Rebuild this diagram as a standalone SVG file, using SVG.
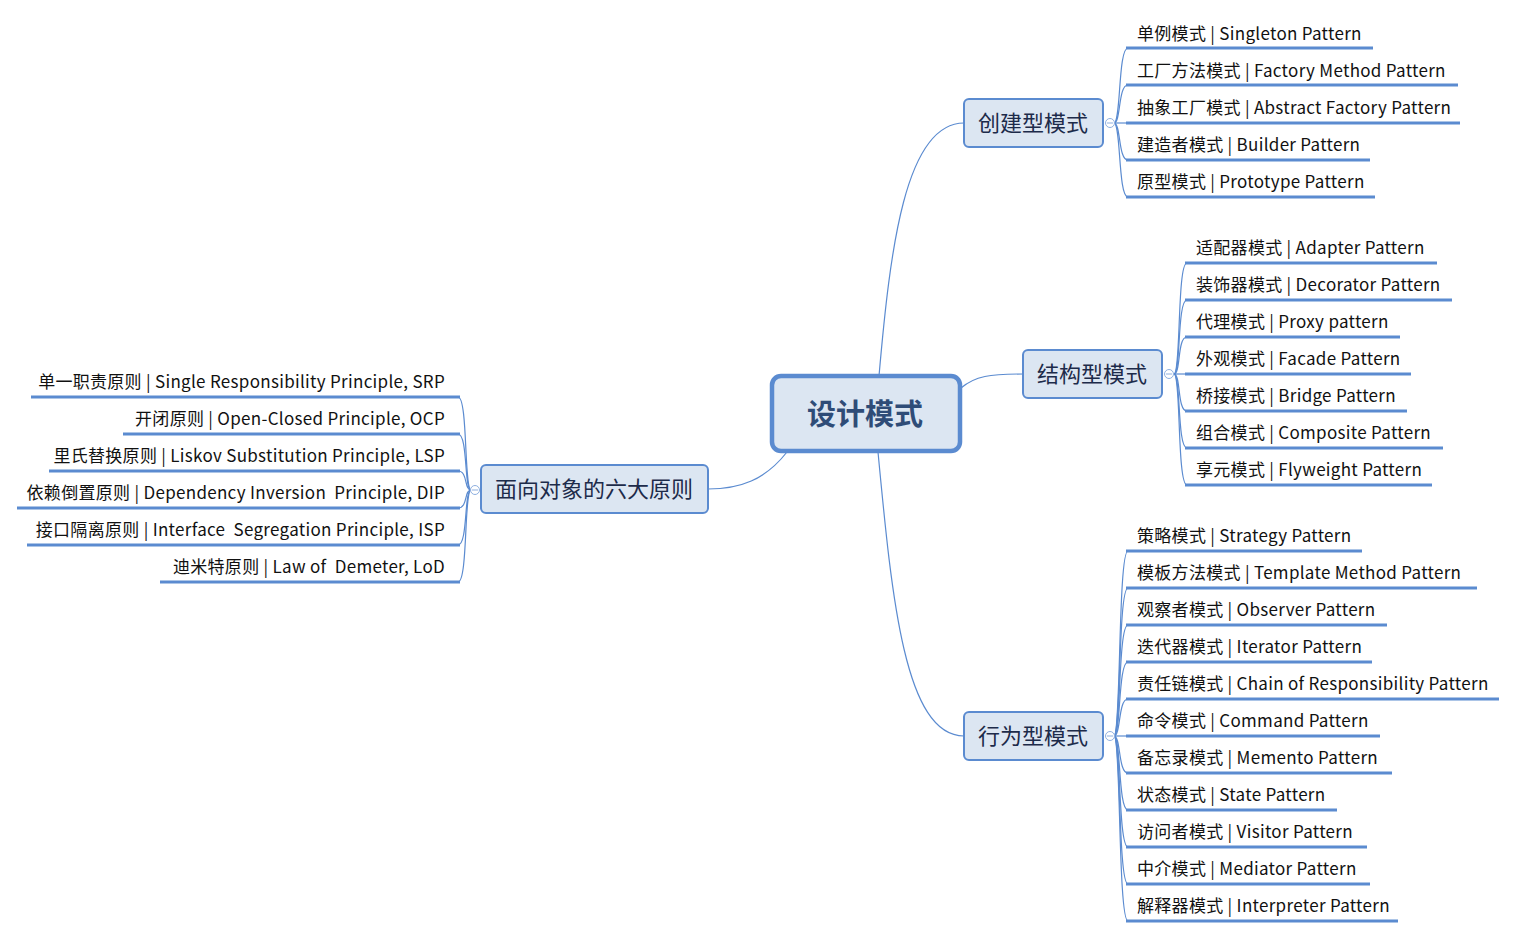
<svg xmlns="http://www.w3.org/2000/svg" width="1517" height="938" viewBox="0 0 1517 938">
<style>
.bg{fill:#ffffff}
.conn{fill:none;stroke:#5b8bd0;stroke-width:1.2}
.ul{stroke:#5b8bd0;stroke-width:3;stroke-linecap:butt}
.leaf{font-family:"Noto Sans CJK SC","Open Sans",sans-serif;font-size:17px;fill:#111111;letter-spacing:0.3px}
.br rect{fill:#dce6f2;stroke:#5b8bd0;stroke-width:2}
.brt{font-family:"Noto Sans CJK SC",sans-serif;font-size:22px;fill:#1d2b4a;text-anchor:middle}
.ctr rect{fill:#dce6f2;stroke:#5b8bd0;stroke-width:4.5}
.ctrt{font-family:"Noto Sans CJK SC",sans-serif;font-size:29px;font-weight:bold;fill:#2f4c77;text-anchor:middle}
.tog circle{fill:#ffffff;stroke:#8fb0e0;stroke-width:1}
.tog line{stroke:#8fb0e0;stroke-width:1}
</style>
<rect class="bg" x="0" y="0" width="1517" height="938"/>

<g id="connectors">
  <path class="conn" d="M879,376 C890,250 905,123 964,123"/>
  <path class="conn" d="M961,388 C975,376 990,374 1023,374"/>
  <path class="conn" d="M878,452 C892,600 905,736 964,736"/>
  <path class="conn" d="M787,452 C765,480 740,489 708,489"/>
  <path class="conn" d="M1114,123 C1121,123 1118,48 1128,48"/>
  <path class="conn" d="M1114,123 C1121,123 1118,85 1128,85"/>
  <path class="conn" d="M1114,123 L1128,123"/>
  <path class="conn" d="M1114,123 C1121,123 1118,160 1128,160"/>
  <path class="conn" d="M1114,123 C1121,123 1118,197 1128,197"/>
  <path class="conn" d="M1174,374 C1181,374 1177,263 1187,263"/>
  <path class="conn" d="M1174,374 C1181,374 1177,300 1187,300"/>
  <path class="conn" d="M1174,374 C1181,374 1177,337 1187,337"/>
  <path class="conn" d="M1174,374 L1187,374"/>
  <path class="conn" d="M1174,374 C1181,374 1177,411 1187,411"/>
  <path class="conn" d="M1174,374 C1181,374 1177,448 1187,448"/>
  <path class="conn" d="M1174,374 C1181,374 1177,485 1187,485"/>
  <path class="conn" d="M1114,736 C1121,736 1118,551 1128,551"/>
  <path class="conn" d="M1114,736 C1121,736 1118,588 1128,588"/>
  <path class="conn" d="M1114,736 C1121,736 1118,625 1128,625"/>
  <path class="conn" d="M1114,736 C1121,736 1118,662 1128,662"/>
  <path class="conn" d="M1114,736 C1121,736 1118,699 1128,699"/>
  <path class="conn" d="M1114,736 L1128,736"/>
  <path class="conn" d="M1114,736 C1121,736 1118,773 1128,773"/>
  <path class="conn" d="M1114,736 C1121,736 1118,810 1128,810"/>
  <path class="conn" d="M1114,736 C1121,736 1118,847 1128,847"/>
  <path class="conn" d="M1114,736 C1121,736 1118,884 1128,884"/>
  <path class="conn" d="M1114,736 C1121,736 1118,921 1128,921"/>
  <path class="conn" d="M471,490 C464,490 468,397 458,397"/>
  <path class="conn" d="M471,490 C464,490 468,434 458,434"/>
  <path class="conn" d="M471,490 C464,490 468,471 458,471"/>
  <path class="conn" d="M471,490 C464,490 468,508 458,508"/>
  <path class="conn" d="M471,490 C464,490 468,545 458,545"/>
  <path class="conn" d="M471,490 C464,490 468,582 458,582"/>
</g>

<g id="center" class="ctr">
  <rect x="772" y="376" width="188" height="75" rx="9"/>
  <text class="ctrt" x="865" y="425">设计模式</text>
</g>

<g id="creational" class="br">
  <rect x="964" y="99" width="139" height="48" rx="5"/>
  <text class="brt" x="1033" y="131">创建型模式</text>
</g>
<g id="creational-toggle" class="tog"><circle cx="1110" cy="123" r="4.5"/><line x1="1107" y1="123" x2="1113" y2="123"/></g>

<g id="structural" class="br">
  <rect x="1023" y="350" width="139" height="48" rx="5"/>
  <text class="brt" x="1092" y="382">结构型模式</text>
</g>
<g id="structural-toggle" class="tog"><circle cx="1169" cy="374" r="4.5"/><line x1="1166" y1="374" x2="1172" y2="374"/></g>

<g id="behavioral" class="br">
  <rect x="964" y="712" width="139" height="48" rx="5"/>
  <text class="brt" x="1033" y="744">行为型模式</text>
</g>
<g id="behavioral-toggle" class="tog"><circle cx="1110" cy="736" r="4.5"/><line x1="1107" y1="736" x2="1113" y2="736"/></g>

<g id="principles" class="br">
  <rect x="481" y="465" width="227" height="48" rx="5"/>
  <text class="brt" x="594" y="497">面向对象的六大原则</text>
</g>
<g id="principles-toggle" class="tog"><circle cx="475" cy="490" r="4.5"/><line x1="472" y1="490" x2="478" y2="490"/></g>

<g id="c1"><line class="ul" x1="1126" y1="48" x2="1373" y2="48"/><text class="leaf" x="1137" y="40">单例模式 | Singleton Pattern</text></g>
<g id="c2"><line class="ul" x1="1126" y1="85" x2="1458" y2="85"/><text class="leaf" x="1137" y="77">工厂方法模式 | Factory Method Pattern</text></g>
<g id="c3"><line class="ul" x1="1126" y1="123" x2="1460" y2="123"/><text class="leaf" x="1137" y="114">抽象工厂模式 | Abstract Factory Pattern</text></g>
<g id="c4"><line class="ul" x1="1126" y1="160" x2="1370" y2="160"/><text class="leaf" x="1137" y="151">建造者模式 | Builder Pattern</text></g>
<g id="c5"><line class="ul" x1="1126" y1="197" x2="1375" y2="197"/><text class="leaf" x="1137" y="188">原型模式 | Prototype Pattern</text></g>

<g id="s1"><line class="ul" x1="1185" y1="263" x2="1437" y2="263"/><text class="leaf" x="1196" y="254">适配器模式 | Adapter Pattern</text></g>
<g id="s2"><line class="ul" x1="1185" y1="300" x2="1452" y2="300"/><text class="leaf" x="1196" y="291">装饰器模式 | Decorator Pattern</text></g>
<g id="s3"><line class="ul" x1="1185" y1="337" x2="1400" y2="337"/><text class="leaf" x="1196" y="328">代理模式 | Proxy pattern</text></g>
<g id="s4"><line class="ul" x1="1185" y1="374" x2="1411" y2="374"/><text class="leaf" x="1196" y="365">外观模式 | Facade Pattern</text></g>
<g id="s5"><line class="ul" x1="1185" y1="411" x2="1407" y2="411"/><text class="leaf" x="1196" y="402">桥接模式 | Bridge Pattern</text></g>
<g id="s6"><line class="ul" x1="1185" y1="448" x2="1443" y2="448"/><text class="leaf" x="1196" y="439">组合模式 | Composite Pattern</text></g>
<g id="s7"><line class="ul" x1="1185" y1="485" x2="1432" y2="485"/><text class="leaf" x="1196" y="476">享元模式 | Flyweight Pattern</text></g>

<g id="b1"><line class="ul" x1="1126" y1="551" x2="1362" y2="551"/><text class="leaf" x="1137" y="542">策略模式 | Strategy Pattern</text></g>
<g id="b2"><line class="ul" x1="1126" y1="588" x2="1477" y2="588"/><text class="leaf" x="1137" y="579">模板方法模式 | Template Method Pattern</text></g>
<g id="b3"><line class="ul" x1="1126" y1="625" x2="1387" y2="625"/><text class="leaf" x="1137" y="616">观察者模式 | Observer Pattern</text></g>
<g id="b4"><line class="ul" x1="1126" y1="662" x2="1372" y2="662"/><text class="leaf" x="1137" y="653">迭代器模式 | Iterator Pattern</text></g>
<g id="b5"><line class="ul" x1="1126" y1="699" x2="1499" y2="699"/><text class="leaf" x="1137" y="690">责任链模式 | Chain of Responsibility Pattern</text></g>
<g id="b6"><line class="ul" x1="1126" y1="736" x2="1380" y2="736"/><text class="leaf" x="1137" y="727">命令模式 | Command Pattern</text></g>
<g id="b7"><line class="ul" x1="1126" y1="773" x2="1392" y2="773"/><text class="leaf" x="1137" y="764">备忘录模式 | Memento Pattern</text></g>
<g id="b8"><line class="ul" x1="1126" y1="810" x2="1337" y2="810"/><text class="leaf" x="1137" y="801">状态模式 | State Pattern</text></g>
<g id="b9"><line class="ul" x1="1126" y1="847" x2="1367" y2="847"/><text class="leaf" x="1137" y="838">访问者模式 | Visitor Pattern</text></g>
<g id="b10"><line class="ul" x1="1126" y1="884" x2="1370" y2="884"/><text class="leaf" x="1137" y="875">中介模式 | Mediator Pattern</text></g>
<g id="b11"><line class="ul" x1="1126" y1="921" x2="1398" y2="921"/><text class="leaf" x="1137" y="912">解释器模式 | Interpreter Pattern</text></g>

<g id="p1"><line class="ul" x1="31" y1="397" x2="460" y2="397"/><text class="leaf" x="445" y="388" text-anchor="end">单一职责原则 | Single Responsibility Principle, SRP</text></g>
<g id="p2"><line class="ul" x1="123" y1="434" x2="460" y2="434"/><text class="leaf" x="445" y="425" text-anchor="end">开闭原则 | Open-Closed Principle, OCP</text></g>
<g id="p3"><line class="ul" x1="49" y1="471" x2="460" y2="471"/><text class="leaf" x="445" y="462" text-anchor="end">里氏替换原则 | Liskov Substitution Principle, LSP</text></g>
<g id="p4"><line class="ul" x1="17" y1="508" x2="460" y2="508"/><text class="leaf" x="445" y="499" text-anchor="end" xml:space="preserve">依赖倒置原则 | Dependency Inversion  Principle, DIP</text></g>
<g id="p5"><line class="ul" x1="27" y1="545" x2="460" y2="545"/><text class="leaf" x="445" y="536" text-anchor="end" xml:space="preserve">接口隔离原则 | Interface  Segregation Principle, ISP</text></g>
<g id="p6"><line class="ul" x1="160" y1="582" x2="460" y2="582"/><text class="leaf" x="445" y="573" text-anchor="end" xml:space="preserve">迪米特原则 | Law of  Demeter, LoD</text></g>
</svg>
